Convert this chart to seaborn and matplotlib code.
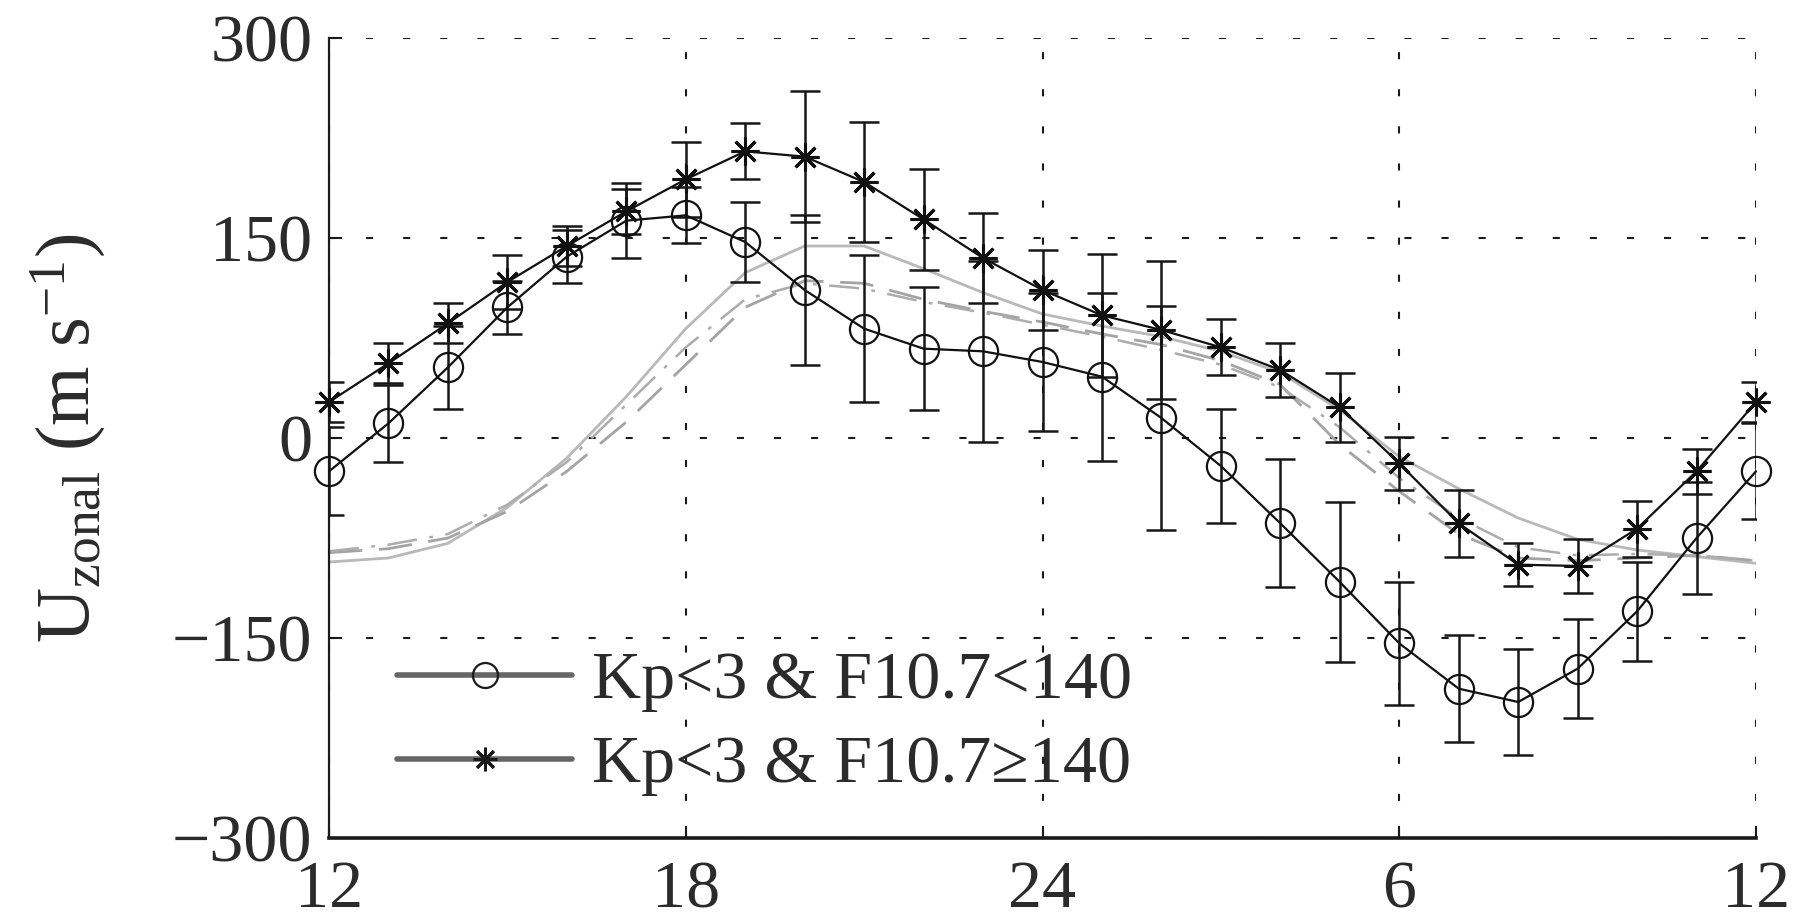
import matplotlib
matplotlib.use("Agg")
import matplotlib.pyplot as plt
import seaborn as sns
from matplotlib.lines import Line2D

# ---------------- data ----------------
hours = list(range(12, 37))
hour_ticks = [12, 18, 24, 30, 36]
hour_labels = ["12", "18", "24", "6", "12"]
y_ticks = [-300, -150, 0, 150, 300]

label_low = "Kp<3 & F10.7<140"
label_high = "Kp<3 & F10.7\u2265140"

u_low = [-25, 11, 53, 98, 136, 163, 167, 147, 111, 82, 67, 65, 57,
         46, 15, -21, -64, -108, -154, -188, -198, -173, -130, -75, -25]
u_low_err = [33, 29, 31, 20, 20, 28, 21, 30, 56, 55, 46, 68, 52,
             63, 84, 43, 48, 60, 46, 40, 40, 37, 37, 42, 36]

u_high = [27, 56, 86, 117, 144, 170, 194, 215, 211, 192, 164, 135, 111,
          92, 81, 68, 51, 23, -19, -64, -95, -96, -68, -25, 27]
u_high_err = [15, 15, 15, 20, 15, 17, 28, 21, 49, 45, 38, 34, 30,
              46, 52, 21, 20, 26, 20, 25, 16, 20, 21, 17, 15]

model_solid = [-93, -90, -79, -52, -15, 31, 82, 124, 144, 144, 127, 109, 93,
               84, 76, 65, 49, 21, -14, -38, -60, -76, -84, -89, -94]
model_dashed = [-86, -83, -75, -55, -25, 12, 55, 98, 118, 116, 104, 95, 87,
                78, 70, 58, 40, -5, -40, -72, -90, -92, -90, -88, -92]
model_dashdot = [-85, -80, -72, -50, -18, 25, 68, 104, 116, 112, 102, 94, 85,
                 76, 66, 55, 38, 8, -30, -60, -82, -88, -87, -88, -92]

# ---------------- style ----------------
sns.set_theme(style="ticks")
plt.rcParams["font.family"] = ["Liberation Serif", "DejaVu Serif"]
plt.rcParams["mathtext.fontset"] = "custom"
plt.rcParams["mathtext.rm"] = "Liberation Serif"
plt.rcParams["mathtext.it"] = "Liberation Serif:italic"
plt.rcParams["text.color"] = "#2b2b2b"

fig = plt.figure(figsize=(17.94, 9.22), dpi=100)
ax = fig.add_axes([329 / 1794, 1 - 838 / 922, 1427 / 1794, 800 / 922])

# model curves (gray)
sns.lineplot(x=hours, y=model_solid, ax=ax, color="#b9b9b9", lw=2.0, zorder=2)
sns.lineplot(x=hours, y=model_dashed, ax=ax, color="#a4a4a4", lw=2.0,
             linestyle=(0, (12, 6)), zorder=2)
sns.lineplot(x=hours, y=model_dashdot, ax=ax, color="#acacac", lw=1.8,
             linestyle=(0, (12, 5, 1.5, 5)), zorder=2)

# error bars
ax.errorbar(hours, u_low, yerr=u_low_err, fmt="none", ecolor="#161616",
            elinewidth=1.8, capsize=10.5, capthick=1.8, zorder=3)
ax.errorbar(hours, u_high, yerr=u_high_err, fmt="none", ecolor="#161616",
            elinewidth=1.8, capsize=10.5, capthick=1.8, zorder=3)

# observations
sns.lineplot(x=hours, y=u_low, ax=ax, color="#111111", lw=1.6, marker="o",
             ms=21, mfc="none", mec="#111111", mew=1.6, clip_on=False, zorder=4)
sns.lineplot(x=hours, y=u_high, ax=ax, color="#111111", lw=1.6, marker=(8, 2, 0),
             ms=20, mec="#111111", mew=2.2, clip_on=False, zorder=4)

# axes
ax.set_xlim(12, 36)
ax.set_ylim(-300, 300)
ax.set_xticks(hour_ticks)
ax.set_xticklabels(hour_labels)
ax.set_yticks(y_ticks)
ax.set_axisbelow(True)
ax.grid(True, color="k", lw=1.5, linestyle=(0, (3.4, 14.4)))
for s in ["top", "right"]:
    ax.spines[s].set_visible(False)
ax.spines["left"].set_linewidth(1.6)
ax.spines["left"].set_color("k")
ax.spines["bottom"].set_linewidth(2.6)
ax.spines["bottom"].set_color("k")
ax.tick_params(axis="both", direction="in", length=9, width=1.5, colors="k",
               labelcolor="#2b2b2b", labelsize=49, bottom=True, left=True)
ax.tick_params(axis="x", pad=16)
ax.tick_params(axis="y", pad=12)

ax.set_ylabel(r"U$_{\mathrm{zonal}}$ (m s$^{-1}$)", fontsize=55, color="#2b2b2b")
ax.yaxis.set_label_coords(-0.155, 0.5)

# legend
h1 = Line2D([], [], color="#666666", lw=4.0, marker="o", ms=18, mfc="none",
            mec="#1a1a1a", mew=1.6)
h2 = Line2D([], [], color="#666666", lw=4.0, marker=(8, 2, 0), ms=17,
            mec="#1a1a1a", mew=2.0)
ax.legend([h1, h2], [label_low, label_high], loc="center left",
          bbox_to_anchor=(0.048, 0.143), frameon=False, fontsize=49,
          handlelength=2.56, handletextpad=0.3, labelspacing=0.33,
          borderpad=0, borderaxespad=0)

fig.savefig("out.png", dpi=100)
